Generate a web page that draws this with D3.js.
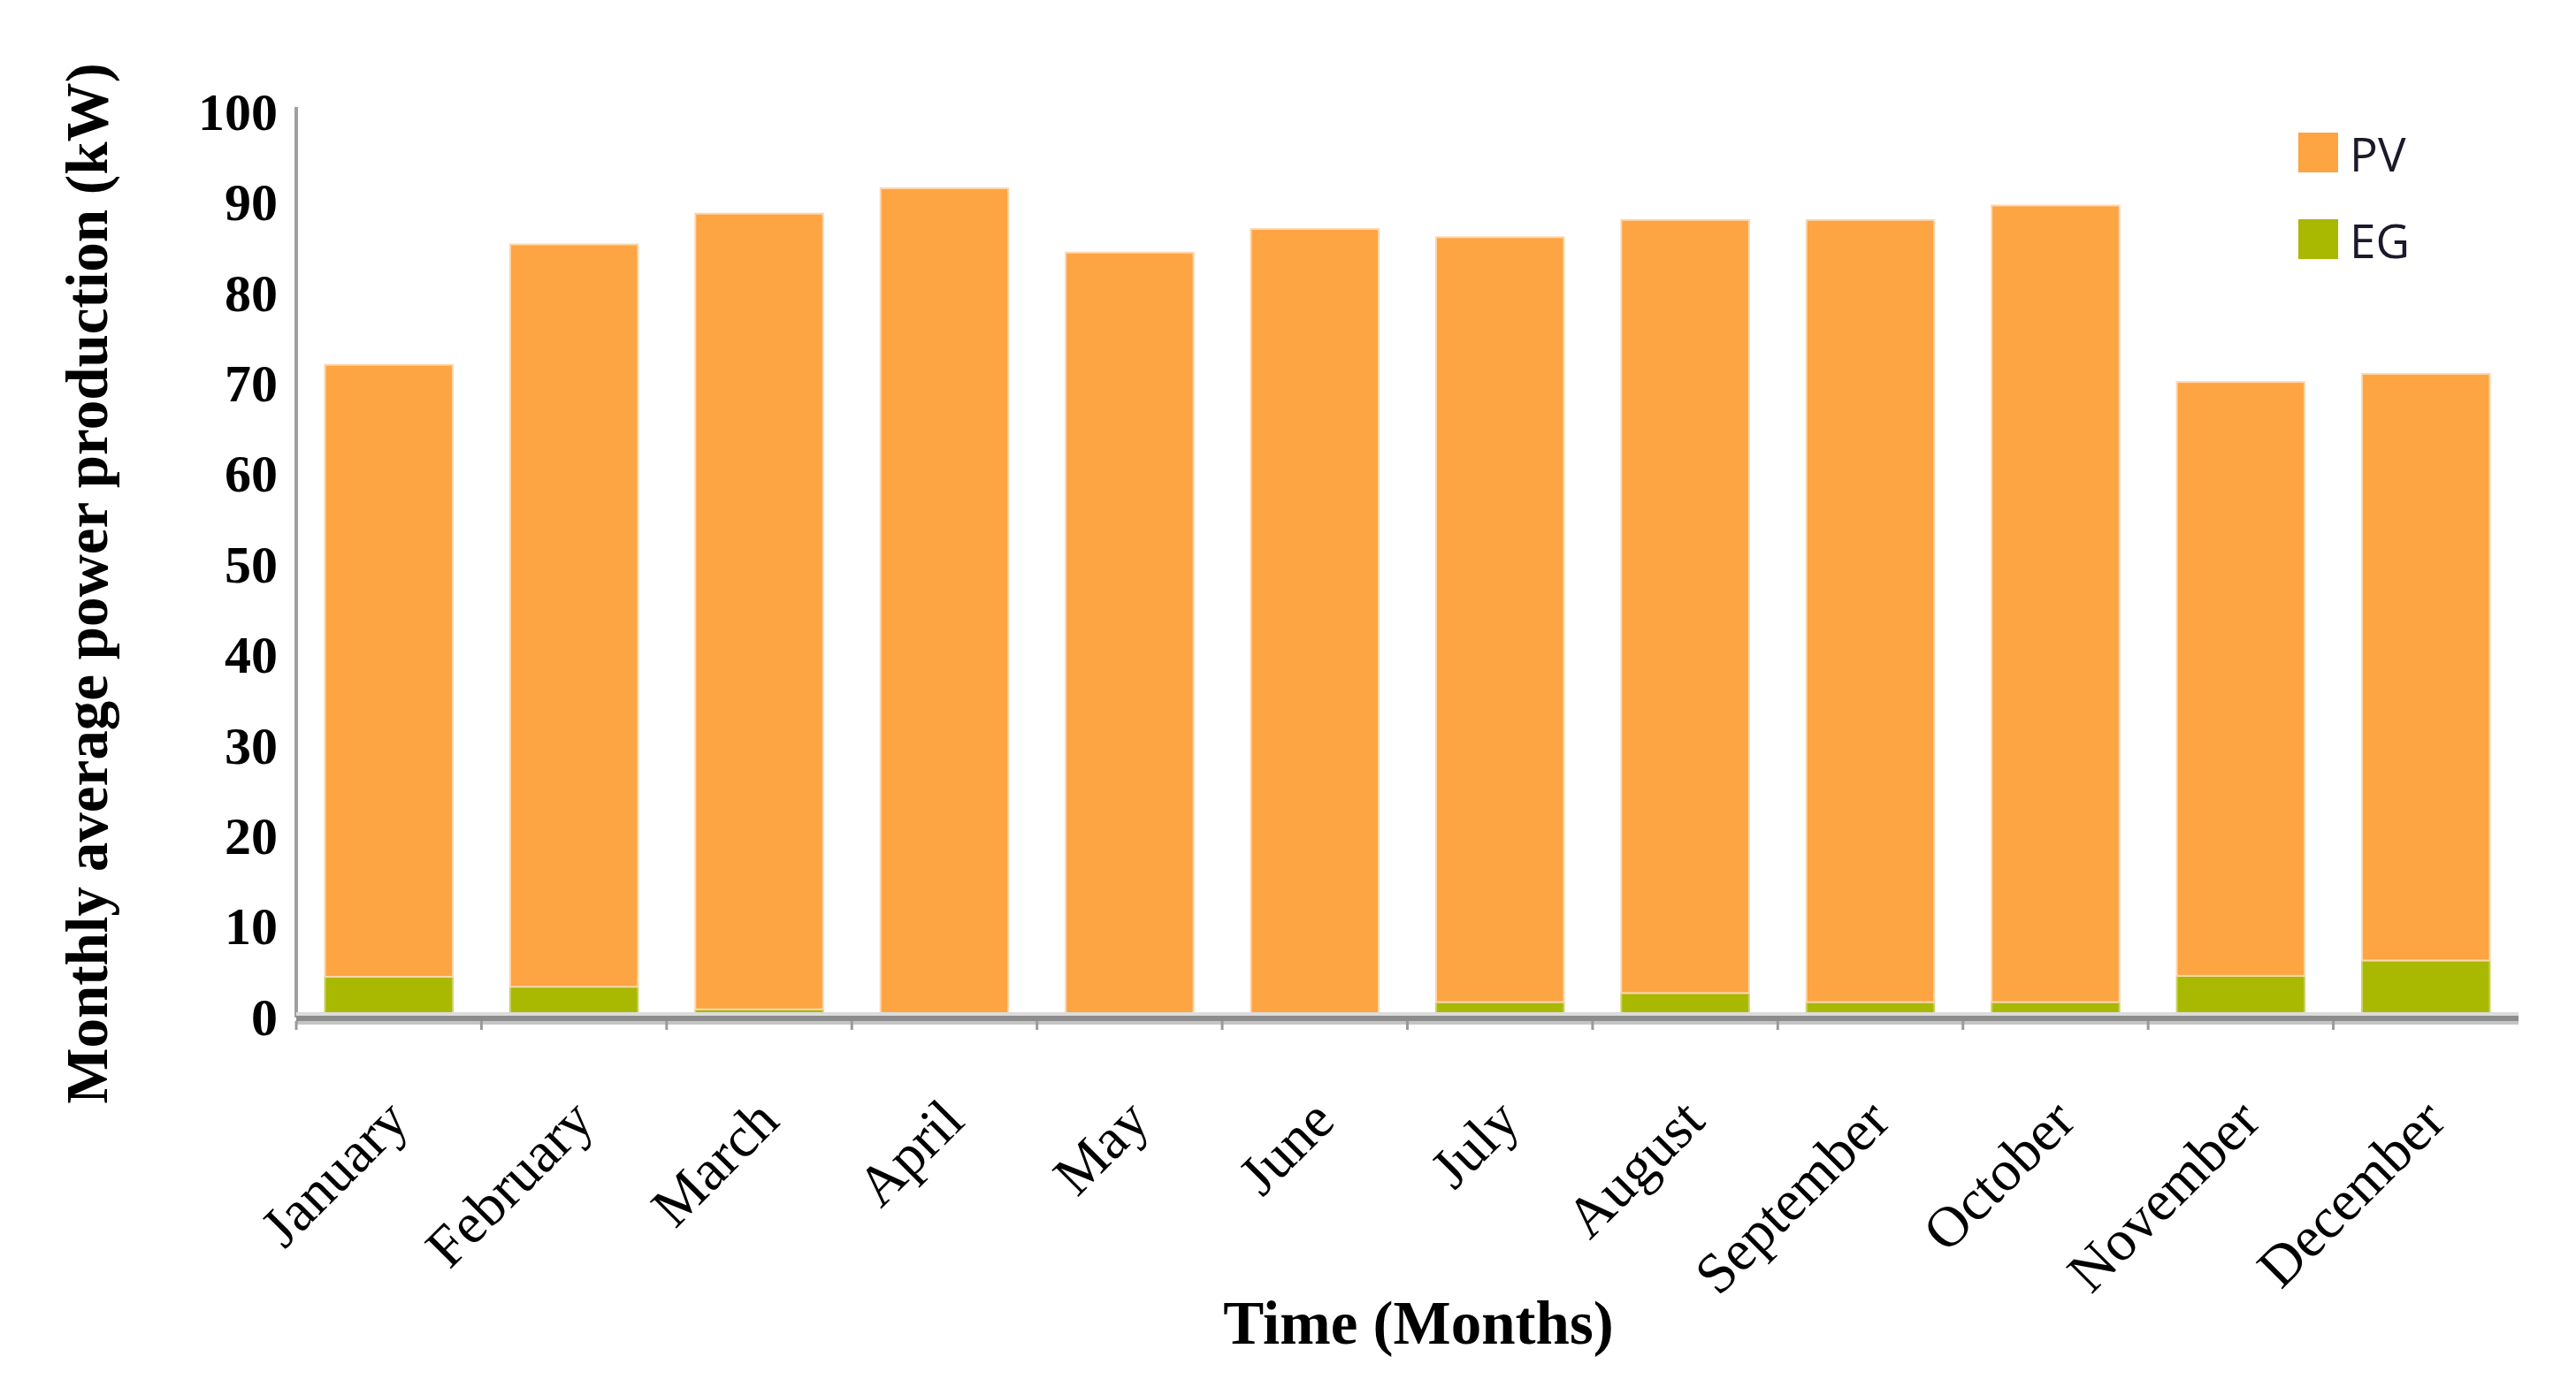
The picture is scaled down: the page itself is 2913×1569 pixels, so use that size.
<!DOCTYPE html>
<html>
<head>
<meta charset="utf-8">
<script src="https://cdn.jsdelivr.net/npm/d3@7"></script>
<style>
  body { margin: 0; background: #fff; }
  svg { display: block; }
</style>
</head>
<body>
<svg width="2913" height="1569"></svg>
<script>
const months = ["January", "February", "March", "April", "May", "June",
  "July", "August", "September", "October", "November", "December"];
const egValues = [4.5, 3.4, 0.9, 0, 0, 0, 1.7, 2.7, 1.7, 1.7, 4.6, 6.3];
const pvValues = [67.6, 82.0, 87.9, 91.6, 84.5, 87.1, 84.5, 85.4, 86.4, 88.0, 65.6, 64.8];
const yTicks = [0, 10, 20, 30, 40, 50, 60, 70, 80, 90, 100];
const seriesNames = ["EG", "PV"];

const svg = d3.select("svg");
const serif = "'Liberation Serif', 'Times New Roman', serif";

const color = d3.scaleOrdinal()
    .domain(seriesNames)
    .range(["#a9b800", "#fda443"]);

const x = d3.scaleBand()
    .domain(months)
    .range([335, 2848])
    .paddingInner(0.31)
    .paddingOuter(0.155);

const y = d3.scaleLinear()
    .domain([0, 100])
    .range([1151, 127]);

const table = months.map((m, i) => ({month: m, EG: egValues[i], PV: pvValues[i]}));
const stacked = d3.stack().keys(seriesNames)(table);

// bars
svg.append("g")
  .selectAll("g")
  .data(stacked)
  .enter().append("g")
    .attr("fill", d => color(d.key))
    .attr("stroke", d => d.key === "PV" ? "#fdd7ad" : "#c9d36a")
    .attr("stroke-width", 2)
  .selectAll("rect")
  .data(d => d.filter(p => p[1] - p[0] > 0))
  .enter().append("rect")
    .attr("x", d => x(d.data.month))
    .attr("width", x.bandwidth())
    .attr("y", d => y(d[1]))
    .attr("height", d => y(d[0]) - y(d[1]));

// y axis
const yAxis = svg.append("g")
    .attr("transform", "translate(335,0)")
    .call(d3.axisLeft(y).tickValues(yTicks).tickSize(0).tickPadding(21));
yAxis.select(".domain")
    .attr("stroke", "#a0a0a0")
    .attr("stroke-width", 4)
    .attr("d", "M0,121V1151");
yAxis.selectAll("text")
    .attr("font-family", serif)
    .attr("font-weight", "bold")
    .attr("font-size", 60)
    .attr("fill", "#000");

// x axis baseline (thick grey with soft edges)
const [x0, x1] = x.range();
svg.append("line")
    .attr("x1", x0).attr("x2", x1)
    .attr("y1", 1147).attr("y2", 1147)
    .attr("stroke", "#dcdcdc").attr("stroke-width", 4);
svg.append("line")
    .attr("x1", x0).attr("x2", x1)
    .attr("y1", 1152).attr("y2", 1152)
    .attr("stroke", "#8c8c8c").attr("stroke-width", 6);
svg.append("line")
    .attr("x1", x0).attr("x2", x1)
    .attr("y1", 1157).attr("y2", 1157)
    .attr("stroke", "#c4c4c4").attr("stroke-width", 4);

// ticks between categories
const bounds = d3.range(months.length + 1).map(i => x0 + i * x.step());
svg.append("g")
  .selectAll("line")
  .data(bounds.slice(0, months.length))
  .enter().append("line")
    .attr("x1", d => d).attr("x2", d => d)
    .attr("y1", 1155).attr("y2", 1165)
    .attr("stroke", "#9a9a9a")
    .attr("stroke-width", 3);

// month labels
svg.append("g")
  .selectAll("text")
  .data(months)
  .enter().append("text")
    .attr("transform", d => `translate(${x(d) + x.bandwidth() / 2 + 25},1271) rotate(-45)`)
    .attr("text-anchor", "end")
    .attr("font-family", serif)
    .attr("font-size", 65)
    .attr("fill", "#000")
    .text(d => d);

// axis titles
svg.append("text")
    .attr("x", 1604)
    .attr("y", 1520)
    .attr("text-anchor", "middle")
    .attr("font-family", serif)
    .attr("font-weight", "bold")
    .attr("font-size", 69)
    .text("Time (Months)");

svg.append("text")
    .attr("transform", "translate(121,660) rotate(-90)")
    .attr("text-anchor", "middle")
    .attr("font-family", serif)
    .attr("font-weight", "bold")
    .attr("font-size", 67)
    .text("Monthly average power production (kW)");

// legend
const legend = svg.append("g")
  .selectAll("g")
  .data(["PV", "EG"])
  .enter().append("g")
    .attr("transform", (d, i) => `translate(2599,${150 + i * 98})`);
legend.append("rect")
    .attr("width", 45)
    .attr("height", 45)
    .attr("fill", d => color(d));
legend.append("text")
    .attr("x", 58)
    .attr("y", 44)
    .attr("font-family", "'Open Sans', sans-serif")
    .attr("font-size", 53)
    .attr("fill", "#1a1a2a")
    .text(d => d);
</script>
</body>
</html>
